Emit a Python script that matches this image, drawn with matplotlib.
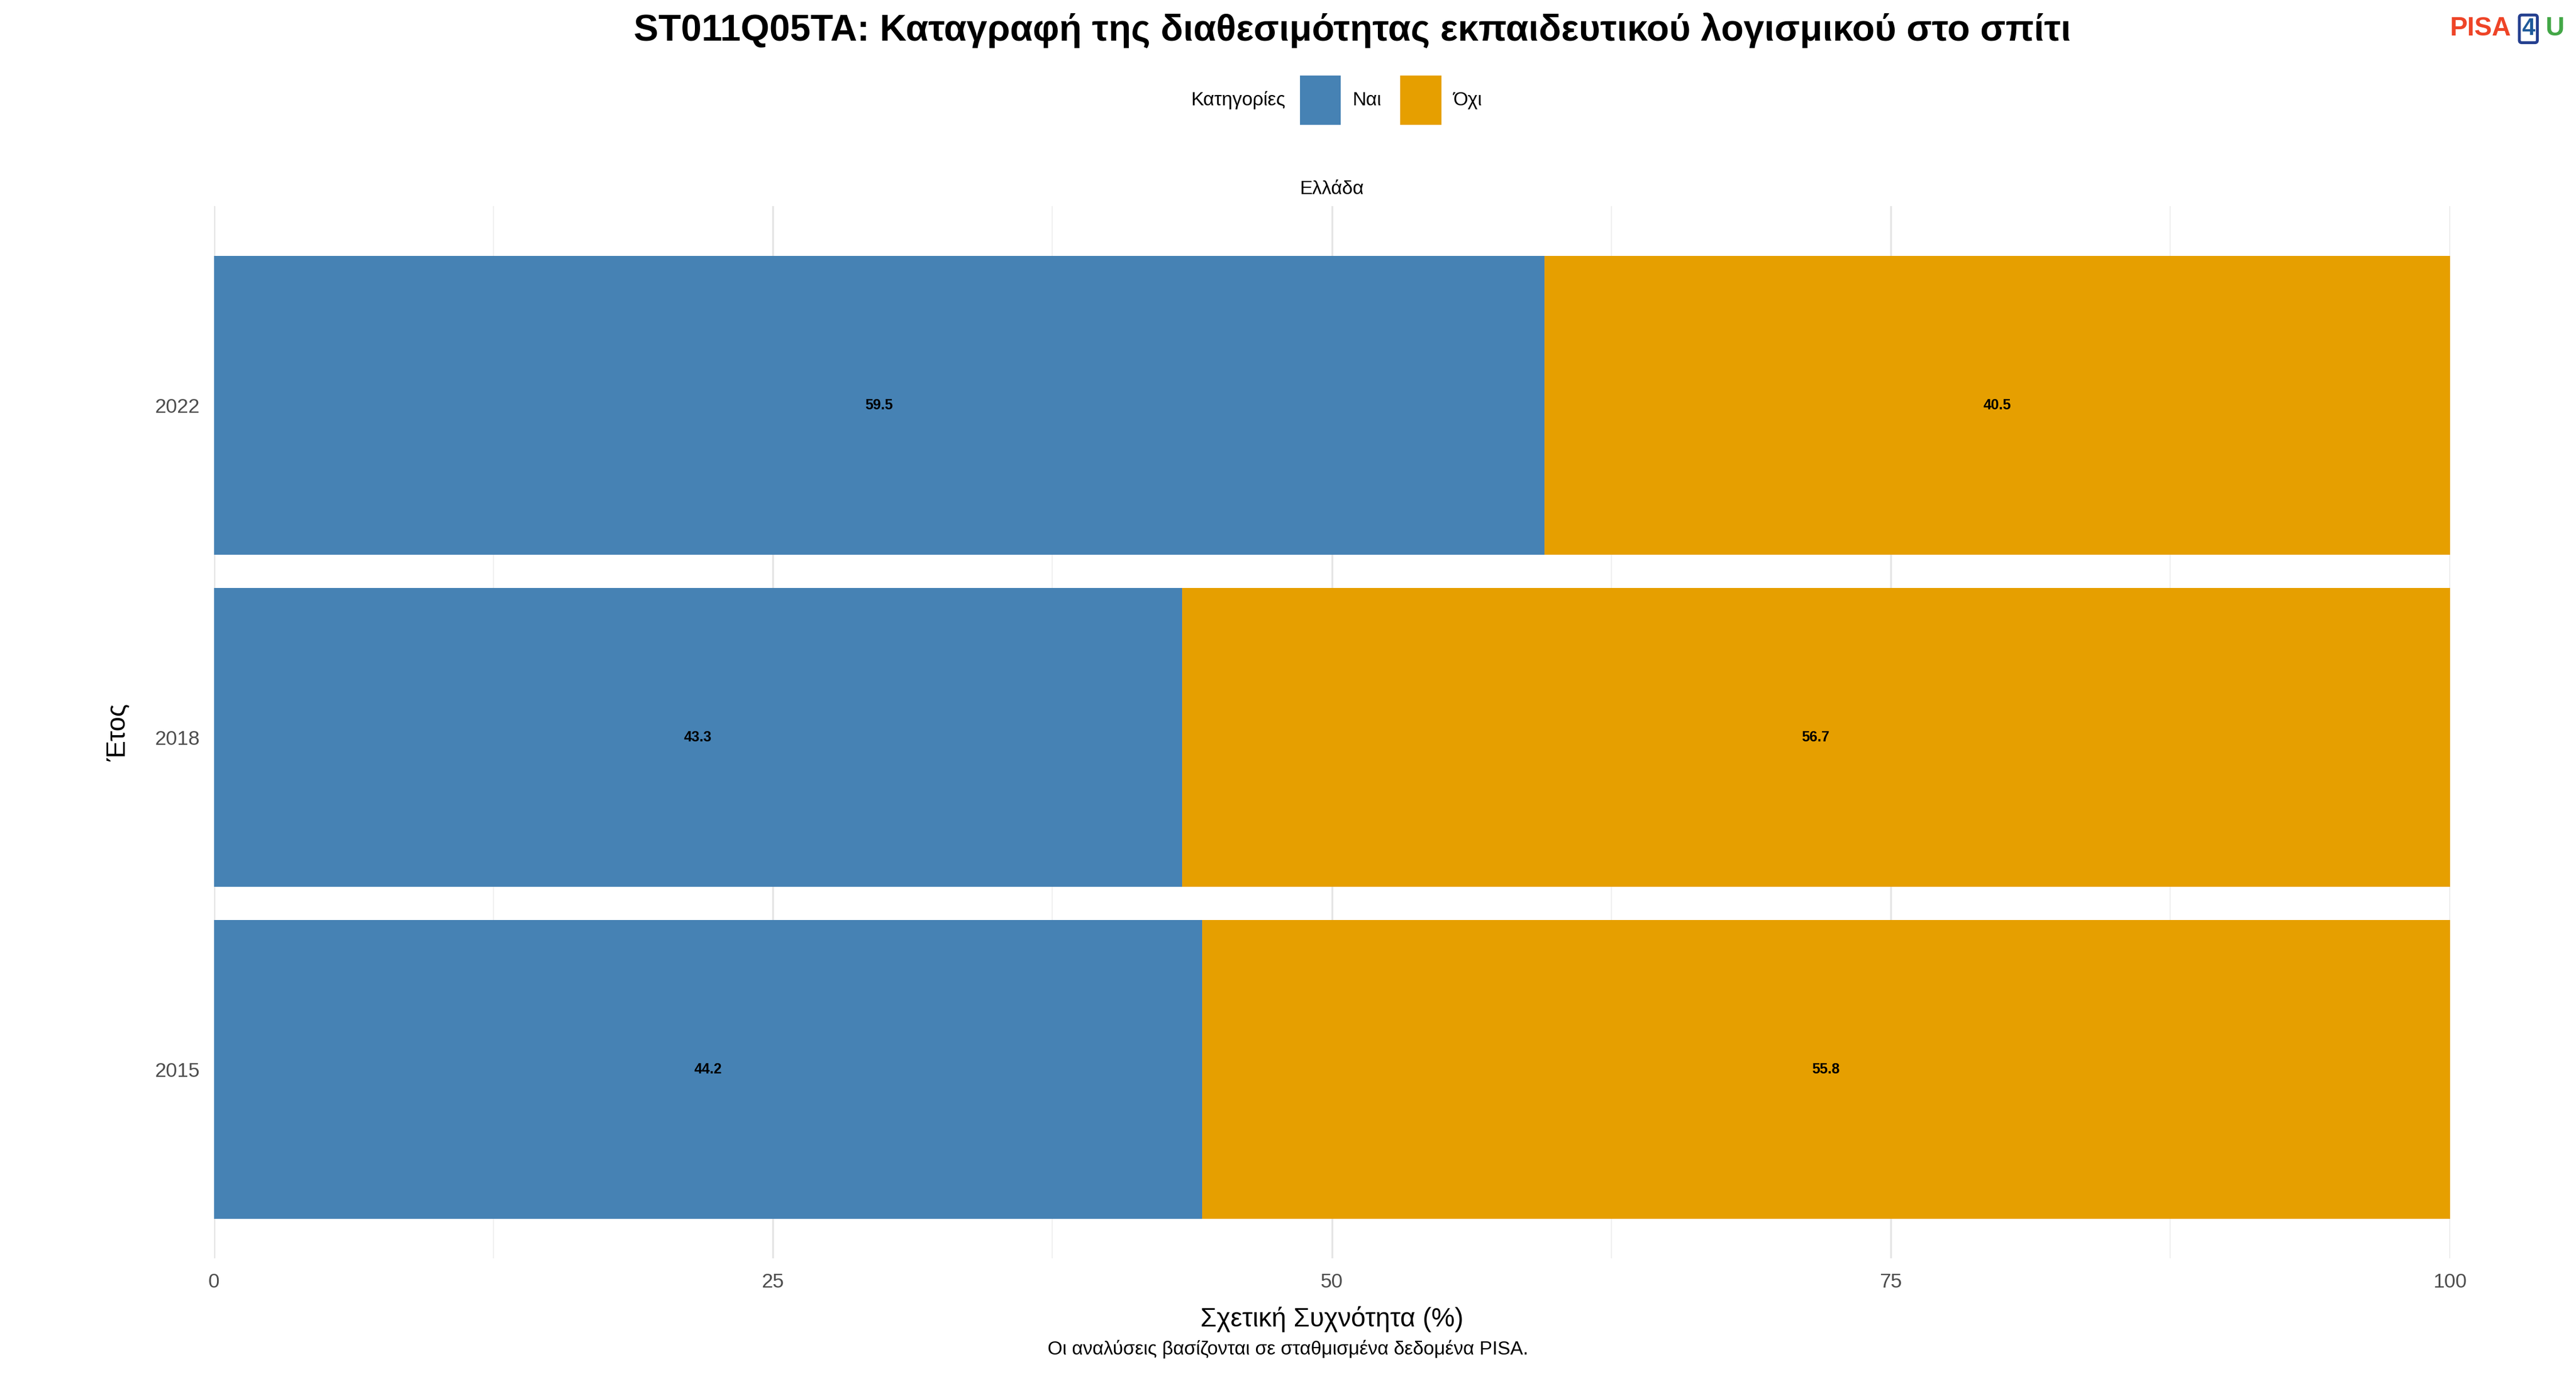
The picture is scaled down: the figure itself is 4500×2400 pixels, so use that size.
import matplotlib
matplotlib.use("Agg")
import matplotlib.pyplot as plt
from matplotlib.patches import FancyBboxPatch

plt.rcParams['font.family'] = ['Liberation Sans', 'DejaVu Sans']

years = ["2015", "2018", "2022"]
yes_vals = [44.2, 43.3, 59.5]
no_vals = [55.8, 56.7, 40.5]
categories = ["Ναι", "Όχι"]
colors = ["#4682B4", "#E69F00"]

fig = plt.figure(figsize=(15, 8), dpi=300)
ax = fig.add_axes([0.083, 0.084, 0.868, 0.766])

pos = range(len(years))
ax.barh(pos, yes_vals, height=0.9, color=colors[0], zorder=2)
ax.barh(pos, no_vals, left=yes_vals, height=0.9, color=colors[1], zorder=2)
for i in pos:
    ax.text(yes_vals[i] / 2, i, f"{yes_vals[i]:.1f}", ha="center", va="center",
            fontsize=6, fontweight="bold", zorder=3)
    ax.text(yes_vals[i] + no_vals[i] / 2, i, f"{no_vals[i]:.1f}", ha="center",
            va="center", fontsize=6, fontweight="bold", zorder=3)

ax.set_xlim(0, 100)
ax.set_ylim(-0.57, 2.6)
ax.set_yticks(list(pos))
ax.set_yticklabels(years)
ax.set_xticks([0, 25, 50, 75, 100])
ax.set_xticks([12.5, 37.5, 62.5, 87.5], minor=True)
ax.grid(True, which="major", color="#E5E5E5", linewidth=0.8, zorder=0)
ax.grid(True, which="minor", axis="x", color="#F0F0F0", linewidth=0.5, zorder=0)
ax.tick_params(length=0, labelsize=8.5, colors="#4D4D4D", which="both", pad=6)
for s in ax.spines.values():
    s.set_visible(False)
ax.set_xlabel("Σχετική Συχνότητα (%)", fontsize=11, labelpad=6)
ax.set_ylabel("Έτος", fontsize=11, labelpad=10)
ax.set_title("Ελλάδα", fontsize=8, pad=5)

fig.text(0.525, 0.978, "ST011Q05TA: Καταγραφή της διαθεσιμότητας εκπαιδευτικού λογισμικού στο σπίτι",
         ha="center", va="center", fontsize=15.5, fontweight="bold")
fig.text(0.5, 0.018, "Οι αναλύσεις βασίζονται σε σταθμισμένα δεδομένα PISA.",
         ha="center", va="center", fontsize=8)

# legend
fig.text(0.499, 0.927, "Κατηγορίες", ha="right", va="center", fontsize=8)
fig.patches.append(FancyBboxPatch((0.505, 0.91), 0.015, 0.034, boxstyle="square,pad=0",
                                  transform=fig.transFigure, color=colors[0]))
fig.text(0.525, 0.927, categories[0], ha="left", va="center", fontsize=8)
fig.patches.append(FancyBboxPatch((0.544, 0.91), 0.015, 0.034, boxstyle="square,pad=0",
                                  transform=fig.transFigure, color=colors[1]))
fig.text(0.564, 0.927, categories[1], ha="left", va="center", fontsize=8)

# logo
fig.text(0.951, 0.979, "PISA", ha="left", va="center", fontsize=11, fontweight="bold", color="#EE4427")
fig.text(0.9815, 0.979, "4", ha="center", va="center", fontsize=10, fontweight="bold", color="#1F5A9A",
         bbox=dict(boxstyle="round,pad=0.1", fc="white", ec="#243F8F", lw=1.2))
fig.text(0.988, 0.979, "U", ha="left", va="center", fontsize=11, fontweight="bold", color="#43A747")

fig.savefig("out.png", dpi=300)
